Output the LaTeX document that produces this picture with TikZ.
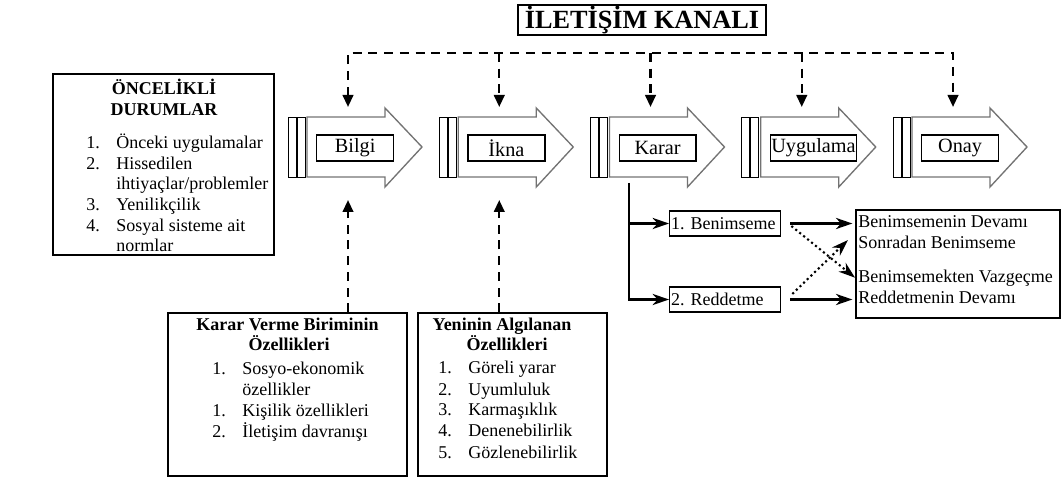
\documentclass[tikz,border=0pt]{standalone}
\usepackage{fontspec}
\setmainfont{Liberation Serif}
\usetikzlibrary{arrows.meta}
\frenchspacing
\begin{document}
\begin{tikzpicture} [
        x=0.6667pt, y=-0.6667pt,
        box/.style = {draw, line width=0.9pt, inner sep=0pt},
        bar/.style = {draw, line width=0.6pt},
        stagearrow/.style = {draw=black!55, line width=0.9pt, line join=miter},
        stagebox/.style = {draw, line width=0.9pt, anchor=west, minimum width=51.3pt, minimum height=17.3pt, inner sep=0.6pt, font=\fontsize{13.5}{15}\selectfont},
        choice/.style = {draw, line width=0.9pt, anchor=west, text width=72pt, align=left, minimum height=16.7pt, inner sep=1pt, font=\fontsize{12}{14}\selectfont},
        heading/.style = {anchor=base, inner sep=0pt, font=\bfseries\fontsize{12}{14}\selectfont},
        item/.style = {anchor=base west, inner sep=0pt, font=\fontsize{12}{14}\selectfont},
        channel/.style = {draw, line width=1.6pt, dash pattern=on 6pt off 4.5pt, -{Triangle[width=7pt,length=8pt]}},
        flow/.style = {draw, line width=1.5pt, -{Stealth[length=11pt,width=7.5pt,inset=3.5pt]}},
        dotflow/.style = {draw, line width=1.4pt, dotted, -{Stealth[length=11pt,width=7.5pt,inset=3.5pt]}},
    ]
    \useasboundingbox (0,0) rectangle (1062,478);

    \node[draw, line width=0.9pt, minimum width=165.3pt, minimum height=20pt, inner sep=0pt,
        font=\bfseries\fontsize{17.5}{20}\selectfont] (kanal) at (642,20) {İLETİŞİM KANALI};

    \foreach \i/\name/\txt in {
        0/bilgi/Bilgi, 1/ikna/İkna, 2/karar/Karar, 3/uygulama/Uygulama, 4/onay/Onay} {
        \pgfmathsetmacro{\xo}{288+151.25*\i}
        \draw[bar] (\xo,117) rectangle ++(8,60);
        \draw[bar] (\xo+9,117) rectangle ++(8,60);
        \draw[stagearrow] (\xo+19,117) -- (\xo+97,117) -- (\xo+97,108) -- (\xo+134,147)
            -- (\xo+97,187) -- (\xo+97,177) -- (\xo+19,177) -- cycle;
        \node[stagebox] (\name) at (\xo+28,148) {\txt};
        \coordinate (\name-ch) at (\xo+60,53);
        \coordinate (\name-in) at (\xo+60,107);
        \coordinate (\name-up) at (\xo+60,200);
    }

    \path[channel, {Triangle[width=7pt,length=8pt]}-{Triangle[width=7pt,length=8pt]}]
        (bilgi-in) -- (bilgi-ch) -- (onay-ch) -- (onay-in);
    \foreach \name in {ikna, karar, uygulama}
        \path[channel] (\name-ch) -- (\name-in);

    \node[box, minimum width=147.3pt, minimum height=120.7pt] (oncelik) at (163.5,164.5) {};
    \node[heading] (oncelik-h1) at (164,95) {ÖNCELİKLİ};
    \node[heading] (oncelik-h2) at (164,116) {DURUMLAR};
    \foreach \y/\num/\txt [count=\k] in {
        149/1./Önceki uygulamalar, 170/2./Hissedilen, 190//{ihtiyaçlar/problemler},
        211/3./Yenilikçilik, 232/4./Sosyal sisteme ait, 252//normlar} {
        \node[item] (oncelik-n\k) at (86,\y) {\num};
        \node[item] (oncelik-t\k) at (116,\y) {\txt};
    }

    \node[box, minimum width=159.3pt, minimum height=108.7pt] (birim) at (287.5,394.5) {};
    \node[heading] (birim-h1) at (287.5,330) {Karar Verme Biriminin};
    \node[heading] (birim-h2) at (289,350) {Özellikleri};
    \foreach \y/\num/\txt [count=\k] in {
        374/1./Sosyo-ekonomik, 395//özellikler, 416/1./Kişilik özellikleri, 437/2./İletişim davranışı} {
        \node[item] (birim-n\k) at (212,\y) {\num};
        \node[item] (birim-t\k) at (242,\y) {\txt};
    }

    \node[box, minimum width=126pt, minimum height=108.7pt] (yenilik) at (512.5,394.5) {};
    \node[heading] (yenilik-h1) at (502,330) {Yeninin Algılanan};
    \node[heading] (yenilik-h2) at (507,350) {Özellikleri};
    \foreach \y/\num/\txt [count=\k] in {
        373/1./Göreli yarar, 395/2./Uyumluluk, 415/3./Karmaşıklık, 436/4./Denenebilirlik, 458/5./Gözlenebilirlik} {
        \node[item] (yenilik-n\k) at (438,\y) {\num};
        \node[item] (yenilik-t\k) at (468,\y) {\txt};
    }

    \path[channel] (birim.north -| bilgi-up) -- (bilgi-up);
    \path[channel] (yenilik.north -| ikna-up) -- (ikna-up);

    \node[choice] (ben) at (669,223.5) {1. Benimseme};
    \node[choice] (red) at (669,299.5) {2. Reddetme};
    \node[box, minimum width=136pt, minimum height=72pt] (sonuc) at (958,264) {};
    \foreach \y/\txt [count=\k] in {
        228/Benimsemenin Devamı, 248/Sonradan Benimseme, 282/Benimsemekten Vazgeçme, 303/Reddetmenin Devamı}
        \node[item] (s\k) at (858,\y) {\txt};

    \coordinate (karar-dn) at (629,183);
    \path[flow] (karar-dn) |- (red.west);
    \path[flow] (karar-dn |- ben.west) -- (ben.west);
    \path[flow, shorten <=6pt, shorten >=2pt] (ben.east) -- (ben.east -| sonuc.west);
    \path[flow, shorten <=6pt, shorten >=2pt] (red.east) -- (red.east -| sonuc.west);
    \path[dotflow] ([xshift=6.7pt,yshift=-1.7pt]ben.east) -- ([xshift=-2pt]s3.west);
    \path[dotflow] ([xshift=7.3pt,yshift=3.7pt]red.east) -- ([xshift=-6.7pt,yshift=1.2pt]s2.west);
\end{tikzpicture}
\end{document}
